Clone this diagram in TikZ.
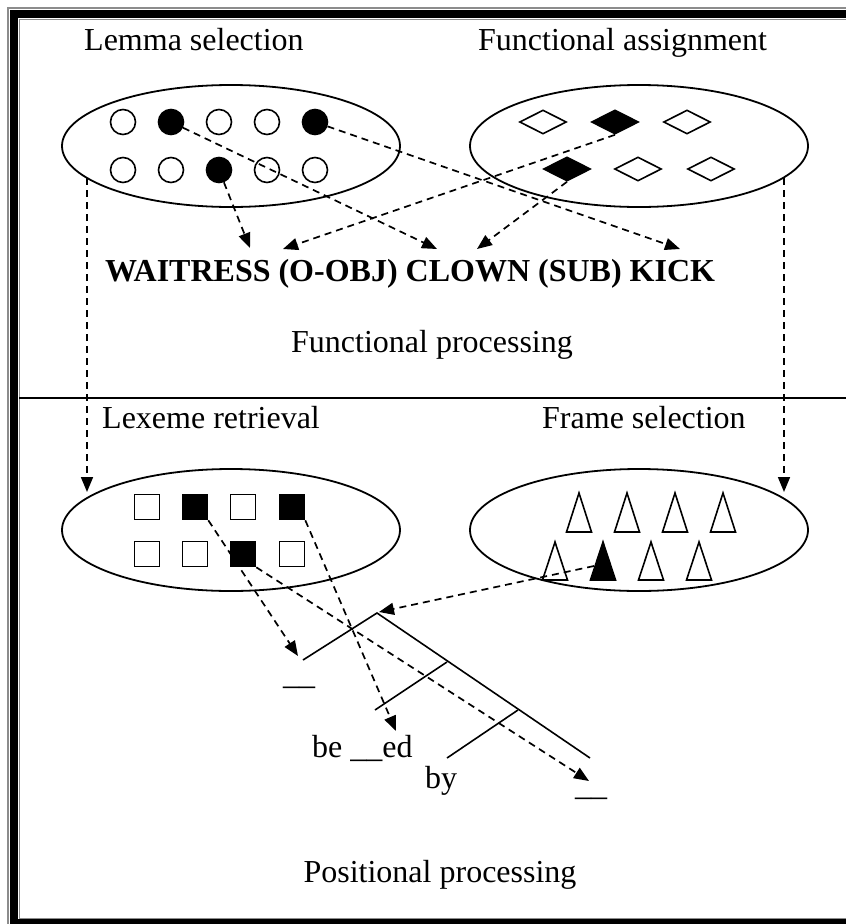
\documentclass[tikz,border=0pt]{standalone}
\usepackage{fontspec}
\setmainfont{Liberation Serif}
\usetikzlibrary{arrows.meta,shapes.geometric}
\begin{document}
\begin{tikzpicture}[x=1pt,y=-1pt,
  lbl/.style={font=\fontsize{32}{36}\selectfont, inner sep=0pt},
  boldlbl/.style={font=\fontsize{32}{36}\selectfont\bfseries, inner sep=0pt},
  ell/.style={draw, ellipse, line width=1.8pt, minimum width=338pt, minimum height=122pt, inner sep=0pt},
  circ/.style={draw, circle, line width=1.6pt, minimum size=25pt, inner sep=0pt},
  dmd/.style={draw, diamond, line width=1.6pt, minimum width=47pt, minimum height=24pt, aspect=2, inner sep=0pt},
  sq/.style={draw, rectangle, line width=1.6pt, minimum size=25pt, inner sep=0pt},
  tri/.style={draw, line width=1.6pt, line join=miter},
  arr/.style={dash pattern=on 7pt off 5pt, line width=1.7pt, -{Triangle[length=15pt,width=12pt]}},
  treeline/.style={line width=1.6pt}
]
\useasboundingbox (0,0) rectangle (846,924);
\clip (0,0) rectangle (846,924);
\fill[white] (0,0) rectangle (846,924);
% frame
\draw[line width=8pt] (14,14) rectangle (852,923);
\draw[black!45, line width=1.5pt] (8,8) rectangle (858,929);
\draw[black!45, line width=1pt] (19,19) rectangle (847,918);
\draw[line width=1.8pt] (19,398) -- (846,398);

% ellipses
\node[ell] (lemE) at (231,146) {};
\node[ell] (funE) at (639,146) {};
\node[ell] (lexE) at (231,530) {};
\node[ell] (frmE) at (639,530) {};

% circles
\node[circ] (c11) at (123,122) {};
\node[circ, fill=black] (c12) at (171,122) {};
\node[circ] (c13) at (219,122) {};
\node[circ] (c14) at (267,122) {};
\node[circ, fill=black] (c15) at (315,122) {};
\node[circ] (c21) at (123,170) {};
\node[circ] (c22) at (171,170) {};
\node[circ, fill=black] (c23) at (219,170) {};
\node[circ] (c24) at (267,170) {};
\node[circ] (c25) at (315,170) {};

% diamonds
\node[dmd] (d11) at (543,122) {};
\node[dmd, fill=black] (d12) at (615,122) {};
\node[dmd] (d13) at (687,122) {};
\node[dmd, fill=black] (d21) at (567,169) {};
\node[dmd] (d22) at (638,169) {};
\node[dmd] (d23) at (711,169) {};

% squares
\node[sq] (s11) at (147,507) {};
\node[sq, fill=black] (s12) at (195,507) {};
\node[sq] (s13) at (243,507) {};
\node[sq, fill=black] (s14) at (292,507) {};
\node[sq] (s21) at (147,554) {};
\node[sq] (s22) at (195,554) {};
\node[sq, fill=black] (s23) at (243,554) {};
\node[sq] (s24) at (292,554) {};

% triangles
\foreach \x in {579,627,675,723} {
  \draw[tri] (\x-12.5,532) -- (\x,493) -- (\x+12.5,532) -- cycle;
}
\foreach \x in {555,651,699} {
  \draw[tri] (\x-12.5,580) -- (\x,542) -- (\x+12.5,580) -- cycle;
}
\draw[tri, fill=black] (590.5,580) -- (603,542) -- (615.5,580) -- cycle;
\coordinate (trif) at (594,566);

% labels
\node[lbl, anchor=base west] (t1) at (84,50) {Lemma selection};
\node[lbl, anchor=base west] (t2) at (478,50) {Functional assignment};
\node[boldlbl, anchor=base west] (words) at (105,281) {WAITRESS (O-OBJ) CLOWN (SUB) KICK};
\node[lbl, anchor=base] (fp) at (432,352) {Functional processing};
\node[lbl, anchor=base west] (lx) at (102,428) {Lexeme retrieval};
\node[lbl, anchor=base west] (fs) at (542,428) {Frame selection};
\node[lbl, anchor=base] (pp) at (440,882) {Positional processing};
\node[lbl, anchor=base west] (u1) at (283,684) {\_\_};
\node[lbl, anchor=base west] (bed) at (312,757) {be \_\_ed};
\node[lbl, anchor=base west] (by) at (425,788) {by};
\node[lbl, anchor=base west] (u2) at (575,795) {\_\_};

% tree
\coordinate (tL) at (303,660);
\coordinate (tTop) at (377,613);
\coordinate (tR) at (590,758);
\coordinate (b1a) at (447,662);
\coordinate (b1b) at (375,710);
\coordinate (b2a) at (518,710);
\coordinate (b2b) at (447,758);
\draw[treeline] (tL) -- (tTop) -- (tR);
\draw[treeline] (b1a) -- (b1b);
\draw[treeline] (b2a) -- (b2b);

% arrow targets
\coordinate (aW) at (250,248);
\coordinate (aO) at (283,249);
\coordinate (aC) at (437,249);
\coordinate (aO2) at (477,249);
\coordinate (aK) at (680,249);
\coordinate (lemL) at (87,178);
\coordinate (lexT) at (87,492);
\coordinate (funR) at (784,178);
\coordinate (frmT) at (784,492);
\coordinate (tip1) at (298,656);
\coordinate (tip2) at (396,731);
\coordinate (tip3) at (589,781);
\coordinate (tip4) at (379,612);

% arrows top
\draw[arr] (c23) -- (aW);
\draw[arr] (c12) -- (aC);
\draw[arr] (c15) -- (aK);
\draw[arr] (d12.south) -- (aO);
\draw[arr] (d21.south) -- (aO2);
\draw[arr] (lemL) -- (lexT);
\draw[arr] (funR) -- (frmT);
% arrows bottom
\draw[arr] (s12.south east) -- (tip1);
\draw[arr] (s14.south east) -- (tip2);
\draw[arr] (s23.south east) -- (tip3);
\draw[arr] (trif) -- (tip4);
\end{tikzpicture}
\end{document}
